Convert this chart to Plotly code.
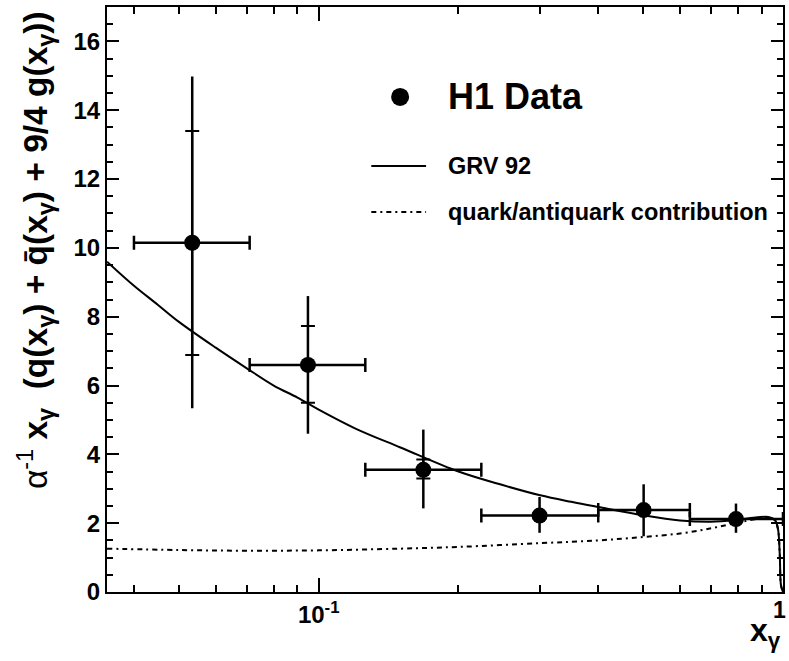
import plotly.graph_objects as go

# ---- data ----
x_pts = [0.0534, 0.0948, 0.168, 0.299, 0.501, 0.792]
x_lo = [0.040, 0.071, 0.126, 0.224, 0.40, 0.63]
x_hi = [0.071, 0.126, 0.224, 0.40, 0.63, 1.0]
y_pts = [10.15, 6.6, 3.55, 2.22, 2.38, 2.12]
tot_hi = [14.98, 8.6, 4.72, 2.76, 3.13, 2.57]
tot_lo = [5.34, 4.6, 2.43, 1.72, 1.62, 1.72]
stat_hi = [13.4, 7.73, 3.85, 2.3, 2.46, 2.2]
stat_lo = [6.89, 5.5, 3.3, 2.14, 2.3, 2.04]

grv_x = [0.035, 0.04, 0.045, 0.05, 0.06, 0.07, 0.08, 0.09, 0.1, 0.12, 0.15, 0.2, 0.25,
         0.3, 0.35, 0.4, 0.5, 0.6, 0.7, 0.8, 0.88, 0.93, 0.96, 0.975, 0.984, 0.99, 1.0]
grv_y = [9.6, 8.9, 8.35, 7.85, 7.1, 6.5, 6.0, 5.65, 5.3, 4.75, 4.2, 3.5, 3.1,
         2.81, 2.62, 2.47, 2.23, 2.08, 2.04, 2.1, 2.17, 2.18, 2.1, 1.85, 1.1, 0.2, 0.0]

qk_x = [0.035, 0.05, 0.07, 0.1, 0.15, 0.2, 0.3, 0.4, 0.5, 0.6, 0.7, 0.8, 0.88, 0.93,
        0.96, 0.975, 0.984, 0.99, 1.0]
qk_y = [1.26, 1.22, 1.2, 1.21, 1.26, 1.31, 1.42, 1.5, 1.6, 1.7, 1.85, 2.02, 2.12, 2.15,
        2.08, 1.83, 1.1, 0.2, 0.0]

x_ticks = [0.1, 1.0]
x_ticktext = ["10<sup>-1</sup>", ""]
x_minor = [0.04, 0.05, 0.06, 0.07, 0.08, 0.09, 0.2, 0.3, 0.4, 0.5, 0.6, 0.7, 0.8, 0.9]
y_ticks = [0, 2, 4, 6, 8, 10, 12, 14, 16]

FONT = "Liberation Sans, Arial, sans-serif"
BLACK = "black"

fig = go.Figure()

fig.add_trace(go.Scatter(x=grv_x, y=grv_y, mode="lines", line=dict(color=BLACK, width=2, shape="spline"),
                         showlegend=False, hoverinfo="skip"))
fig.add_trace(go.Scatter(x=qk_x, y=qk_y, mode="lines",
                         line=dict(color=BLACK, width=2, dash="5px,4px,2px,4px", shape="spline"),
                         showlegend=False, hoverinfo="skip"))

# stat error ticks
fig.add_trace(go.Scatter(
    x=x_pts, y=y_pts, mode="markers", marker=dict(size=1, color="rgba(0,0,0,0)"),
    error_y=dict(type="data", symmetric=False,
                 array=[h - y for h, y in zip(stat_hi, y_pts)],
                 arrayminus=[y - l for l, y in zip(stat_lo, y_pts)],
                 color=BLACK, thickness=2, width=7),
    showlegend=False, hoverinfo="skip"))

# data with total errors
fig.add_trace(go.Scatter(
    x=x_pts, y=y_pts, mode="markers", marker=dict(size=16, color=BLACK),
    error_x=dict(type="data", symmetric=False,
                 array=[h - x for h, x in zip(x_hi, x_pts)],
                 arrayminus=[x - l for l, x in zip(x_lo, x_pts)],
                 color=BLACK, thickness=2.5, width=7),
    error_y=dict(type="data", symmetric=False,
                 array=[h - y for h, y in zip(tot_hi, y_pts)],
                 arrayminus=[y - l for l, y in zip(tot_lo, y_pts)],
                 color=BLACK, thickness=2.5, width=0),
    showlegend=False))

# ---- legend (manual) ----
fig.add_shape(type="circle", xref="paper", yref="paper", xsizemode="pixel", ysizemode="pixel",
              xanchor=0.4336, yanchor=0.8462, x0=-9, x1=9, y0=-9, y1=9,
              fillcolor=BLACK, line=dict(color=BLACK, width=0))
fig.add_shape(type="line", xref="paper", yref="paper", x0=0.391, x1=0.472, y0=0.728, y1=0.728,
              line=dict(color=BLACK, width=2))
fig.add_shape(type="line", xref="paper", yref="paper", x0=0.391, x1=0.472, y0=0.6496, y1=0.6496,
              line=dict(color=BLACK, width=2, dash="5px,4px,2px,4px"))
fig.add_annotation(xref="paper", yref="paper", x=0.501, y=0.8462, xanchor="left", yanchor="middle",
                   text="<b>H1 Data</b>", showarrow=False, font=dict(family=FONT, size=36, color=BLACK))
fig.add_annotation(xref="paper", yref="paper", x=0.501, y=0.728, xanchor="left", yanchor="middle",
                   text="<b>GRV 92</b>", showarrow=False, font=dict(family=FONT, size=23.5, color=BLACK))
fig.add_annotation(xref="paper", yref="paper", x=0.501, y=0.6496, xanchor="left", yanchor="middle",
                   text="<b>quark/antiquark contribution</b>", showarrow=False,
                   font=dict(family=FONT, size=23.5, color=BLACK))

# axis titles
fig.add_annotation(xref="paper", yref="paper", x=-0.106, y=0.585, xanchor="center", yanchor="middle",
                   textangle=-90, showarrow=False,
                   text="α<sup>-1</sup> <b>x<sub>γ</sub>  (q(x<sub>γ</sub>) + q\u0304(x<sub>γ</sub>) + 9/4 g(x<sub>γ</sub>))</b>",
                   font=dict(family=FONT, size=33.5, color=BLACK))
fig.add_annotation(xref="paper", yref="paper", x=1.0, y=-0.03, xanchor="right", yanchor="top",
                   showarrow=False, text="<b>x<sub>γ</sub></b>",
                   font=dict(family=FONT, size=32, color=BLACK))
fig.add_annotation(xref="x", yref="paper", x=0, y=-0.005, xanchor="center", yanchor="top",
                   xshift=-4, showarrow=False, text="<b>1</b>",
                   font=dict(family=FONT, size=23, color=BLACK))

fig.update_xaxes(type="log", range=[-1.456, 0], tickvals=x_ticks,
                 ticktext=[f"<b>{t}</b>" if t else "" for t in x_ticktext],
                 ticks="inside", ticklen=14, tickwidth=1.5, tickcolor=BLACK,
                 minor=dict(tickvals=x_minor, ticks="inside", ticklen=7, tickwidth=1.5, tickcolor=BLACK),
                 showline=True, linecolor=BLACK, linewidth=2, mirror="ticks",
                 showgrid=False, zeroline=False,
                 tickfont=dict(family=FONT, size=24, color=BLACK))
fig.update_yaxes(range=[0, 17], tickvals=y_ticks, ticktext=[f"<b>{v}</b>" for v in y_ticks],
                 ticks="inside", ticklen=12, tickwidth=1.5, tickcolor=BLACK,
                 minor=dict(dtick=0.5, ticks="inside", ticklen=6, tickwidth=1.5, tickcolor=BLACK),
                 showline=True, linecolor=BLACK, linewidth=2, mirror="ticks",
                 showgrid=False, zeroline=False,
                 tickfont=dict(family=FONT, size=24, color=BLACK))

fig.update_layout(width=789, height=661, margin=dict(l=107, r=4, t=7, b=69),
                  paper_bgcolor="white", plot_bgcolor="white", showlegend=False)

fig.write_html("out.html")
